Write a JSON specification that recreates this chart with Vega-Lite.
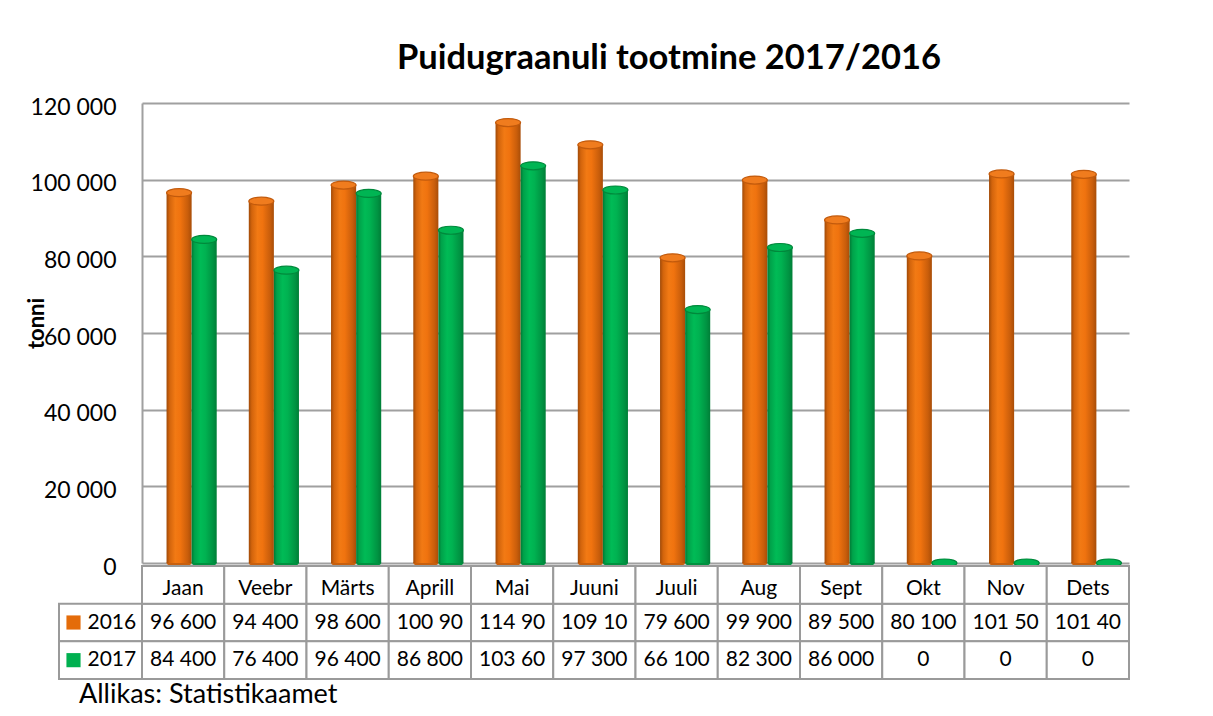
{
  "$schema": "https://vega.github.io/schema/vega-lite/v6.json",
  "background": "white",
  "padding": {"left": 25, "top": 40, "right": 5, "bottom": 5},
  "config": {"view": {"stroke": null}, "font": "Lato"},
  "title": {"text": "Puidugraanuli tootmine 2017/2016", "fontSize": 34.5, "fontWeight": "bold", "font": "Lato", "color": "black", "anchor": "middle", "frame": "group", "dx": 610, "offset": 20},
  "datasets": {
    "prod": [
      {"month": "Jaan", "year": "2016", "value": 96600, "label": "96 600"},
      {"month": "Veebr", "year": "2016", "value": 94400, "label": "94 400"},
      {"month": "Märts", "year": "2016", "value": 98600, "label": "98 600"},
      {"month": "Aprill", "year": "2016", "value": 100900, "label": "100 90"},
      {"month": "Mai", "year": "2016", "value": 114900, "label": "114 90"},
      {"month": "Juuni", "year": "2016", "value": 109100, "label": "109 10"},
      {"month": "Juuli", "year": "2016", "value": 79600, "label": "79 600"},
      {"month": "Aug", "year": "2016", "value": 99900, "label": "99 900"},
      {"month": "Sept", "year": "2016", "value": 89500, "label": "89 500"},
      {"month": "Okt", "year": "2016", "value": 80100, "label": "80 100"},
      {"month": "Nov", "year": "2016", "value": 101500, "label": "101 50"},
      {"month": "Dets", "year": "2016", "value": 101400, "label": "101 40"},
      {"month": "Jaan", "year": "2017", "value": 84400, "label": "84 400"},
      {"month": "Veebr", "year": "2017", "value": 76400, "label": "76 400"},
      {"month": "Märts", "year": "2017", "value": 96400, "label": "96 400"},
      {"month": "Aprill", "year": "2017", "value": 86800, "label": "86 800"},
      {"month": "Mai", "year": "2017", "value": 103600, "label": "103 60"},
      {"month": "Juuni", "year": "2017", "value": 97300, "label": "97 300"},
      {"month": "Juuli", "year": "2017", "value": 66100, "label": "66 100"},
      {"month": "Aug", "year": "2017", "value": 82300, "label": "82 300"},
      {"month": "Sept", "year": "2017", "value": 86000, "label": "86 000"},
      {"month": "Okt", "year": "2017", "value": 0, "label": "0"},
      {"month": "Nov", "year": "2017", "value": 0, "label": "0"},
      {"month": "Dets", "year": "2017", "value": 0, "label": "0"}
    ]
  },
  "columns": 2,
  "spacing": {"row": 3, "column": 0},
  "bounds": "flush",
  "resolve": {"scale": {"x": "independent", "y": "independent", "xOffset": "independent"}},
  "concat": [
    {
      "width": 83,
      "height": 460,
      "data": {"values": [{"a": 1}]},
      "mark": {"type": "point", "opacity": 0},
      "encoding": {}
    },
    {
      "width": 987,
      "height": 460,
      "data": {"name": "prod"},
      "encoding": {
        "x": {"field": "month", "type": "nominal", "sort": ["Jaan", "Veebr", "Märts", "Aprill", "Mai", "Juuni", "Juuli", "Aug", "Sept", "Okt", "Nov", "Dets"], "scale": {"paddingInner": 0.39, "paddingOuter": 0.195, "align": 0.765}, "axis": null},
        "xOffset": {"field": "year", "type": "nominal", "scale": {"domain": ["2016", "2017"], "paddingInner": 0, "paddingOuter": 0}},
        "y": {"field": "value", "type": "quantitative", "scale": {"domain": [0, 120000], "nice": false, "zero": true},
          "axis": {"values": [0, 20000, 40000, 60000, 80000, 100000, 120000], "labelExpr": "replace(format(datum.value, ','), ',', ' ')", "labelFontSize": 23, "labelFont": "Lato", "labelColor": "black", "labelPadding": 26, "labelOffset": 4, "ticks": false, "domain": true, "domainColor": "#a0a0a0", "domainWidth": 2, "grid": true, "gridColor": "#a0a0a0", "gridWidth": 2, "title": "tonni", "titleFontSize": 22, "titleFont": "Lato", "titleFontWeight": "bold", "titleColor": "black", "titleAngle": -90, "titleX": -99, "titleY": 220, "titleAlign": "center", "titleBaseline": "alphabetic"}}
      },
      "layer": [
        {"transform": [{"filter": "datum.year == '2016'"}], "mark": {"type": "point", "shape": "M-1,0 A1,0.32 0 1,0 1,0 A1,0.32 0 1,0 -1,0 Z", "size": 625, "filled": true, "opacity": 1, "fill": "#c8600e"}, "encoding": {"y": {"datum": 0, "type": "quantitative"}}},
        {"transform": [{"filter": "datum.year == '2017'"}], "mark": {"type": "point", "shape": "M-1,0 A1,0.32 0 1,0 1,0 A1,0.32 0 1,0 -1,0 Z", "size": 625, "filled": true, "opacity": 1, "fill": "#00913f"}, "encoding": {"y": {"datum": 0, "type": "quantitative"}}},
        {"transform": [{"filter": "datum.year == '2016'"}], "mark": {"type": "bar", "fill": {"gradient": "linear", "x1": 0, "y1": 0, "x2": 1, "y2": 0, "stops": [{"offset": 0, "color": "#a04a08"}, {"offset": 0.12, "color": "#d2640c"}, {"offset": 0.35, "color": "#f27a14"}, {"offset": 0.55, "color": "#f0730f"}, {"offset": 0.85, "color": "#c85d0b"}, {"offset": 1, "color": "#a84d08"}]}}},
        {"transform": [{"filter": "datum.year == '2017'"}], "mark": {"type": "bar", "fill": {"gradient": "linear", "x1": 0, "y1": 0, "x2": 1, "y2": 0, "stops": [{"offset": 0, "color": "#007a35"}, {"offset": 0.12, "color": "#00a24a"}, {"offset": 0.35, "color": "#00bb56"}, {"offset": 0.55, "color": "#00b251"}, {"offset": 0.85, "color": "#009342"}, {"offset": 1, "color": "#007e37"}]}}},
        {"transform": [{"filter": "datum.year == '2016'"}], "mark": {"type": "point", "shape": "M-1,0 A1,0.32 0 1,0 1,0 A1,0.32 0 1,0 -1,0 Z", "size": 625, "filled": true, "opacity": 1, "fill": "#f07c1e", "stroke": "#c25a0c", "strokeWidth": 1.2}},
        {"transform": [{"filter": "datum.year == '2017'"}], "mark": {"type": "point", "shape": "M-1,0 A1,0.32 0 1,0 1,0 A1,0.32 0 1,0 -1,0 Z", "size": 625, "filled": true, "opacity": 1, "fill": "#00b553", "stroke": "#00893c", "strokeWidth": 1.2}}
      ]
    },
    {
      "width": 83,
      "height": 113,
      "data": {"name": "prod"},
      "transform": [{"filter": "datum.month == 'Jaan'"}],
      "title": {"text": "Allikas: Statistikaamet", "orient": "bottom", "anchor": "start", "fontSize": 27, "fontWeight": "normal", "font": "Lato", "color": "black", "offset": 2, "dx": 21},
      "encoding": {"y": {"field": "year", "type": "nominal", "scale": {"domain": ["Kuu", "2016", "2017"], "paddingInner": 0, "paddingOuter": 0}, "axis": null}},
      "layer": [
        {"mark": {"type": "rect", "fill": "white", "stroke": "#9a9a9a", "strokeWidth": 2}},
        {"mark": {"type": "point", "shape": "square", "filled": true, "size": 200, "xOffset": -27, "opacity": 1},
         "encoding": {"color": {"field": "year", "type": "nominal", "scale": {"domain": ["2016", "2017"], "range": ["#E46C0A", "#00B050"]}, "legend": null}}},
        {"mark": {"type": "text", "align": "left", "dx": -13, "fontSize": 21, "font": "Lato", "color": "black"}, "encoding": {"text": {"field": "year"}}}
      ]
    },
    {
      "width": 987,
      "height": 113,
      "data": {"name": "prod"},
      "encoding": {
        "x": {"field": "month", "type": "nominal", "sort": ["Jaan", "Veebr", "Märts", "Aprill", "Mai", "Juuni", "Juuli", "Aug", "Sept", "Okt", "Nov", "Dets"], "scale": {"paddingInner": 0, "paddingOuter": 0}, "axis": null}
      },
      "layer": [
        {"mark": {"type": "rect", "fill": "white", "stroke": "#9a9a9a", "strokeWidth": 2},
         "encoding": {"y": {"field": "year", "type": "nominal", "scale": {"domain": ["Kuu", "2016", "2017"], "paddingInner": 0, "paddingOuter": 0}, "axis": null}}},
        {"transform": [{"filter": "datum.year == '2016'"}], "mark": {"type": "rect", "fill": "white", "stroke": "#9a9a9a", "strokeWidth": 2},
         "encoding": {"y": {"datum": "Kuu", "type": "nominal"}}},
        {"mark": {"type": "text", "fontSize": 21, "font": "Lato", "color": "black"},
         "encoding": {"y": {"field": "year", "type": "nominal"}, "text": {"field": "label"}}},
        {"transform": [{"filter": "datum.year == '2016'"}], "mark": {"type": "text", "fontSize": 21, "font": "Lato", "color": "black", "dy": 4},
         "encoding": {"y": {"datum": "Kuu", "type": "nominal"}, "text": {"field": "month"}}}
      ]
    }
  ]
}
